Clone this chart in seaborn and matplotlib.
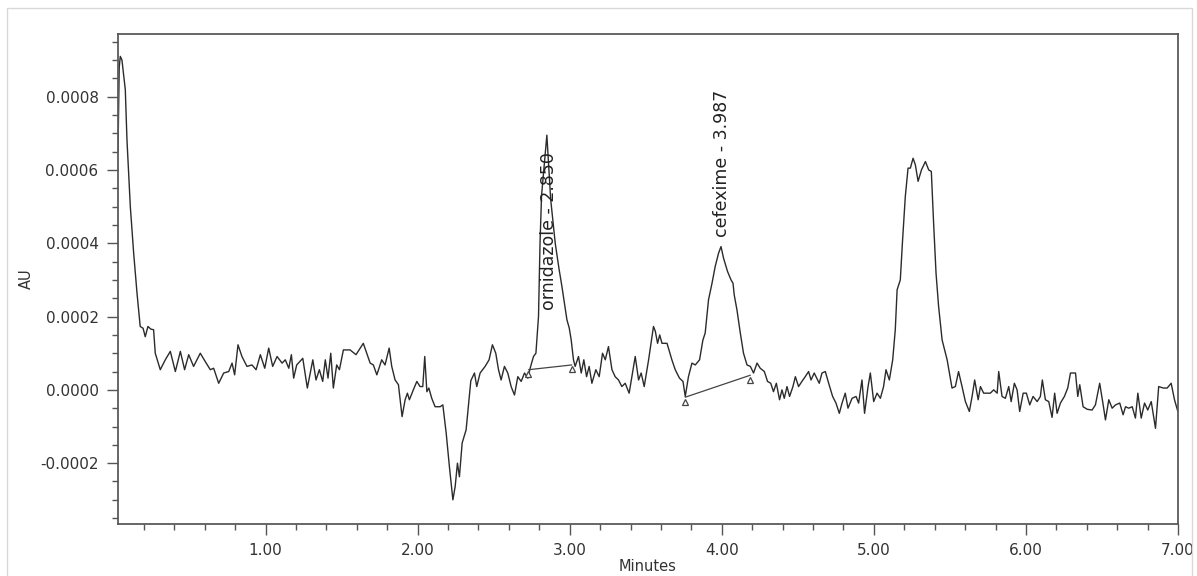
import numpy as np
import pandas as pd
import matplotlib
matplotlib.use('Agg')
import matplotlib.pyplot as plt
import matplotlib.ticker as mticker
from matplotlib.patches import Rectangle
import seaborn as sns

# retention time (minutes) and detector response (in 1e-4 AU)
minutes = [
    0.030, 0.038, 0.045, 0.056, 0.078, 0.089, 0.111, 0.133, 0.155, 0.176, 0.195, 0.209, 0.227, 0.245, 0.264,
    0.275, 0.308, 0.341, 0.374, 0.407, 0.440, 0.468, 0.495, 0.527, 0.571, 0.604, 0.637, 0.659, 0.692, 0.725,
    0.758, 0.780, 0.797, 0.819, 0.845, 0.878, 0.911, 0.938, 0.966, 0.995, 1.021, 1.047, 1.076, 1.109, 1.130,
    1.153, 1.170, 1.185, 1.205, 1.245, 1.275, 1.311, 1.332, 1.354, 1.376, 1.393, 1.411, 1.429, 1.446, 1.468,
    1.486, 1.512, 1.556, 1.595, 1.643, 1.688, 1.709, 1.732, 1.764, 1.786, 1.813, 1.830, 1.852, 1.874, 1.898,
    1.918, 1.933, 1.946, 1.972, 1.995, 2.016, 2.034, 2.047, 2.061, 2.074, 2.093, 2.115, 2.148, 2.166, 2.188,
    2.209, 2.232, 2.247, 2.262, 2.275, 2.293, 2.319, 2.350, 2.374, 2.389, 2.411, 2.444, 2.470, 2.492, 2.514,
    2.532, 2.549, 2.571, 2.593, 2.615, 2.637, 2.659, 2.681, 2.703, 2.725, 2.740, 2.762, 2.778, 2.795, 2.805,
    2.815, 2.850, 2.875, 2.905, 2.930, 2.949, 2.982, 2.997, 3.010, 3.025, 3.036, 3.058, 3.076, 3.093, 3.111,
    3.128, 3.146, 3.172, 3.194, 3.216, 3.234, 3.255, 3.278, 3.299, 3.321, 3.343, 3.365, 3.391, 3.413, 3.431,
    3.453, 3.470, 3.490, 3.519, 3.551, 3.563, 3.578, 3.592, 3.607, 3.640, 3.672, 3.694, 3.722, 3.745, 3.760,
    3.781, 3.804, 3.826, 3.854, 3.876, 3.891, 3.913, 3.936, 3.957, 3.979, 3.995, 4.012, 4.038, 4.061, 4.074,
    4.082, 4.100, 4.122, 4.143, 4.166, 4.188, 4.209, 4.232, 4.253, 4.280, 4.301, 4.322, 4.340, 4.359, 4.380,
    4.396, 4.411, 4.429, 4.446, 4.468, 4.484, 4.505, 4.527, 4.549, 4.571, 4.587, 4.608, 4.641, 4.659, 4.681,
    4.703, 4.729, 4.751, 4.773, 4.791, 4.812, 4.830, 4.857, 4.883, 4.900, 4.922, 4.939, 4.962, 4.977, 4.999,
    5.021, 5.043, 5.064, 5.080, 5.102, 5.124, 5.141, 5.153, 5.174, 5.189, 5.207, 5.225, 5.240, 5.258, 5.273,
    5.291, 5.313, 5.339, 5.361, 5.378, 5.393, 5.409, 5.426, 5.449, 5.482, 5.497, 5.514, 5.536, 5.557, 5.580,
    5.602, 5.628, 5.646, 5.663, 5.686, 5.701, 5.722, 5.745, 5.766, 5.788, 5.811, 5.821, 5.843, 5.865, 5.887,
    5.903, 5.924, 5.942, 5.959, 5.982, 6.003, 6.025, 6.047, 6.074, 6.095, 6.108, 6.128, 6.150, 6.172, 6.189,
    6.205, 6.227, 6.253, 6.275, 6.293, 6.326, 6.341, 6.354, 6.376, 6.403, 6.435, 6.457, 6.485, 6.508, 6.523,
    6.545, 6.567, 6.589, 6.617, 6.639, 6.655, 6.676, 6.699, 6.720, 6.736, 6.758, 6.780, 6.801, 6.824, 6.852,
    6.873, 6.903, 6.929, 6.955, 6.977, 6.999,
]
signal_e4 = [
    6.5, 8.8, 9.1, 9.0, 8.19, 6.82, 5.0, 3.73, 2.64, 1.73, 1.68, 1.45, 1.73, 1.66, 1.64,
    1.0, 0.55, 0.82, 1.05, 0.50, 1.05, 0.55, 0.96, 0.64, 1.0, 0.77, 0.55, 0.59, 0.18, 0.46,
    0.50, 0.73, 0.41, 1.23, 0.91, 0.64, 0.68, 0.55, 0.96, 0.59, 1.14, 0.64, 0.91, 0.73, 0.82,
    0.59, 0.96, 0.32, 0.68, 0.86, 0.05, 0.82, 0.27, 0.55, 0.23, 0.82, 0.32, 1.0, 0.05, 0.68,
    0.55, 1.09, 1.09, 0.96, 1.27, 0.73, 0.68, 0.41, 0.82, 0.68, 1.14, 0.64, 0.27, 0.14, -0.73,
    -0.27, -0.09, -0.27, 0.0, 0.23, 0.09, 0.09, 0.91, -0.05, 0.05, -0.23, -0.46, -0.46, -0.41, -1.18,
    -2.09, -3.0, -2.64, -2.0, -2.37, -1.45, -1.09, 0.25, 0.46, 0.09, 0.46, 0.64, 0.82, 1.23, 1.0,
    0.55, 0.27, 0.64, 0.46, 0.09, -0.14, 0.36, 0.23, 0.46, 0.32, 0.59, 0.91, 1.0, 2.0, 4.0,
    5.3, 6.95, 5.2, 4.0, 3.3, 2.82, 1.91, 1.69, 1.36, 0.82, 0.64, 0.91, 0.46, 0.82, 0.36,
    0.64, 0.18, 0.55, 0.36, 1.0, 0.82, 1.18, 0.55, 0.36, 0.27, 0.09, 0.18, -0.09, 0.46, 0.91,
    0.27, 0.46, 0.09, 0.82, 1.73, 1.6, 1.27, 1.5, 1.27, 1.27, 0.82, 0.55, 0.32, 0.23, -0.18,
    0.36, 0.73, 0.68, 0.82, 1.36, 1.55, 2.46, 2.91, 3.37, 3.73, 3.91, 3.59, 3.23, 3.0, 2.91,
    2.59, 2.18, 1.55, 1.0, 0.68, 0.64, 0.46, 0.73, 0.59, 0.50, 0.23, 0.18, -0.05, 0.18, -0.27,
    0.0, -0.23, 0.09, -0.18, 0.09, 0.36, 0.09, 0.23, 0.36, 0.50, 0.27, 0.46, 0.18, 0.46, 0.50,
    0.18, -0.18, -0.36, -0.64, -0.36, -0.09, -0.5, -0.23, -0.18, -0.36, 0.27, -0.64, 0.09, 0.46, -0.32,
    -0.09, -0.23, 0.09, 0.55, 0.27, 0.82, 1.64, 2.73, 3.0, 4.09, 5.28, 6.05, 6.05, 6.32, 6.14,
    5.69, 6.0, 6.23, 6.0, 5.96, 4.55, 3.18, 2.27, 1.36, 0.82, 0.46, 0.05, 0.09, 0.50, 0.09,
    -0.32, -0.59, -0.18, 0.27, -0.27, 0.09, -0.09, -0.09, -0.09, 0.0, -0.09, 0.50, -0.18, -0.23, 0.09,
    -0.32, 0.18, 0.0, -0.59, -0.09, -0.09, -0.41, -0.18, -0.32, -0.18, 0.27, -0.27, -0.32, -0.75, -0.09,
    -0.64, -0.36, -0.18, 0.05, 0.46, 0.46, -0.18, 0.14, -0.46, -0.53, -0.55, -0.41, 0.18, -0.41, -0.82,
    -0.27, -0.50, -0.41, -0.36, -0.68, -0.46, -0.50, -0.46, -0.77, -0.09, -0.77, -0.36, -0.55, -0.32, -1.05,
    0.09, 0.05, 0.05, 0.18, -0.27, -0.59,
]

# integrated peaks: name, retention time, baseline start/end (min, 1e-4 AU)
peak_names = ['ornidazole', 'cefexime']
peak_rt = [2.850, 3.987]
base_start = [(2.729, 0.55), (3.760, -0.20)]
base_end = [(3.014, 0.68), (4.188, 0.40)]
label_bottom_e4 = [2.18, 4.18]

df = pd.DataFrame({'Minutes': minutes, 'AU': np.array(signal_e4) * 1e-4})

sns.set_style('ticks')
plt.rcParams['font.family'] = ['DejaVu Sans']

fig = plt.figure(figsize=(11.97, 5.76), dpi=100)
ax = fig.add_axes([118 / 1197, 1 - 524 / 576, 1060 / 1197, 490 / 576])

sns.lineplot(data=df, x='Minutes', y='AU', ax=ax, color='#2b2b2b', linewidth=1.0, sort=False)

for i, name in enumerate(peak_names):
    xs = [base_start[i][0], base_end[i][0]]
    ys = [base_start[i][1] * 1e-4, base_end[i][1] * 1e-4]
    ax.plot(xs, ys, color='#444444', lw=0.9)
    ax.plot(xs, [y - 0.000012 for y in ys], linestyle='none', marker='^', ms=5,
            mfc='white', mec='#444444', mew=0.9)
    ax.text(peak_rt[i] + 0.013, label_bottom_e4[i] * 1e-4, f'{name} - {peak_rt[i]:.3f}',
            rotation=90, ha='center', va='bottom', fontsize=12.5, color='#222222')

ax.set_xlim(0.03, 7.0)
ax.set_ylim(-0.000366, 0.000971)
ax.xaxis.set_major_locator(mticker.FixedLocator([1, 2, 3, 4, 5, 6, 7]))
ax.xaxis.set_minor_locator(mticker.MultipleLocator(0.2))
ax.xaxis.set_major_formatter(mticker.FuncFormatter(lambda v, p: f'{v:.2f}'))
ax.yaxis.set_major_locator(mticker.MultipleLocator(0.0002))
ax.yaxis.set_minor_locator(mticker.MultipleLocator(0.00005))
ax.yaxis.set_major_formatter(mticker.FuncFormatter(lambda v, p: f'{v:.4f}'))

ax.tick_params(which='major', length=8, width=1, color='#555555', labelsize=11,
               labelcolor='#333333', direction='out', pad=6)
ax.tick_params(which='minor', length=4, width=1, color='#555555', direction='out')
for s in ax.spines.values():
    s.set_color('#5a5a5a')
    s.set_linewidth(1.3)

ax.set_xlabel('Minutes', fontsize=10.5, color='#333333', va='center')
ax.set_ylabel('AU', fontsize=10.5, color='#333333', va='center')
ax.xaxis.set_label_coords(0.5, -0.086)
ax.yaxis.set_label_coords(-0.086, 0.5)

fig.add_artist(Rectangle((7 / 1197, -0.01), 1185 / 1197, 1 - 8 / 576 + 0.01,
                         transform=fig.transFigure, fill=False, ec='#d8d8d8', lw=1))

fig.savefig('out.png', dpi=100)
